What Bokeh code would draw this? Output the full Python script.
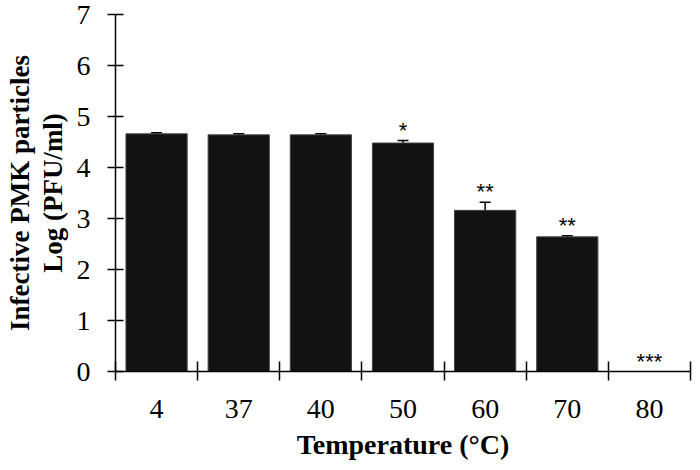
from bokeh.plotting import figure
from bokeh.models import FixedTicker, ColumnDataSource, Whisker, TeeHead
from bokeh.core.properties import value
from bokeh.embed import file_html
from bokeh.resources import INLINE

# ---- data ----
temperatures = ["4", "37", "40", "50", "60", "70", "80"]
log_pfu = [4.66, 4.64, 4.64, 4.48, 3.16, 2.64, 0.0]
log_pfu_err = [0.02, 0.02, 0.02, 0.05, 0.16, 0.02, 0.0]
significance = ["", "", "", "*", "**", "**", "***"]
y_ticks = [0, 1, 2, 3, 4, 5, 6, 7]

xs = list(range(1, len(temperatures) + 1))

p = figure(width=692, height=462, output_backend="svg", toolbar_location=None,
           x_range=(0.5, len(temperatures) + 0.5), y_range=(0, 7),
           min_border_left=115, min_border_right=2, min_border_top=14, min_border_bottom=90)
p.outline_line_color = None
p.xgrid.grid_line_color = None
p.ygrid.grid_line_color = None
p.background_fill_color = "white"
p.border_fill_color = "white"

src = ColumnDataSource(dict(x=xs, top=log_pfu))
p.vbar(x="x", top="top", width=0.745, source=src,
       fill_color="#121212", line_color="#444444", line_width=1)

# error bars (only where there is a bar)
ex = [x for x, v in zip(xs, log_pfu) if v > 0]
ev = [v for v in log_pfu if v > 0]
ee = [e for v, e in zip(log_pfu, log_pfu_err) if v > 0]
esrc = ColumnDataSource(dict(x=ex, upper=[v + e for v, e in zip(ev, ee)],
                             lower=[v - e for v, e in zip(ev, ee)]))
w = Whisker(base="x", upper="upper", lower="lower", source=esrc,
            line_color="black", line_width=1.5,
            upper_head=TeeHead(size=11, line_color="black", line_width=1.5),
            lower_head=TeeHead(size=11, line_color="black", line_width=1.5))
p.add_layout(w)

# significance stars
sx = [x for x, s in zip(xs, significance) if s]
sy = [v + e + 0.2 for v, e, s in zip(log_pfu, log_pfu_err, significance) if s]
st = [s for s in significance if s]
p.text(x=sx, y=sy, text=st, text_align="center", text_baseline="middle",
       text_font=value("Liberation Sans"), text_font_size="22px", text_color="black")

# x axis
p.xaxis.ticker = FixedTicker(ticks=xs, minor_ticks=[x - 0.5 for x in xs] + [xs[-1] + 0.5])
p.xaxis.major_label_overrides = {x: t for x, t in zip(xs, temperatures)}
p.xaxis.major_tick_out = 0
p.xaxis.major_tick_in = 0
p.xaxis.minor_tick_out = 9
p.xaxis.minor_tick_in = 10
p.xaxis.minor_tick_line_color = "black"
p.xaxis.minor_tick_line_width = 1.5
p.xaxis.axis_line_color = "black"
p.xaxis.axis_line_width = 1.5
p.xaxis.major_label_text_font = "Liberation Serif"
p.xaxis.major_label_text_font_size = "28px"
p.xaxis.major_label_text_color = "black"
p.xaxis.major_label_standoff = 19
p.xaxis.axis_label = "Temperature (°C)"
p.xaxis.axis_label_text_font = "Liberation Serif"
p.xaxis.axis_label_text_font_style = "bold"
p.xaxis.axis_label_text_font_size = "28px"
p.xaxis.axis_label_text_color = "black"
p.xaxis.axis_label_standoff = 8

# y axis
p.yaxis.ticker = FixedTicker(ticks=y_ticks)
p.yaxis.major_tick_out = 8
p.yaxis.major_tick_in = 8
p.yaxis.major_tick_line_width = 1.5
p.yaxis.major_tick_line_color = "black"
p.yaxis.minor_tick_line_color = None
p.yaxis.axis_line_color = "black"
p.yaxis.axis_line_width = 1.5
p.yaxis.major_label_text_font = "Liberation Serif"
p.yaxis.major_label_text_font_size = "28px"
p.yaxis.major_label_text_color = "black"
p.yaxis.major_label_standoff = 17
p.yaxis.axis_label = "Infective PMK particles\nLog (PFU/ml)"
p.yaxis.axis_label_text_font = "Liberation Serif"
p.yaxis.axis_label_text_font_style = "bold"
p.yaxis.axis_label_text_font_size = "27px"
p.yaxis.axis_label_text_line_height = 1.1
p.yaxis.axis_label_text_color = "black"
p.yaxis.axis_label_standoff = 6

open("out.html", "w").write(file_html(p, INLINE))
